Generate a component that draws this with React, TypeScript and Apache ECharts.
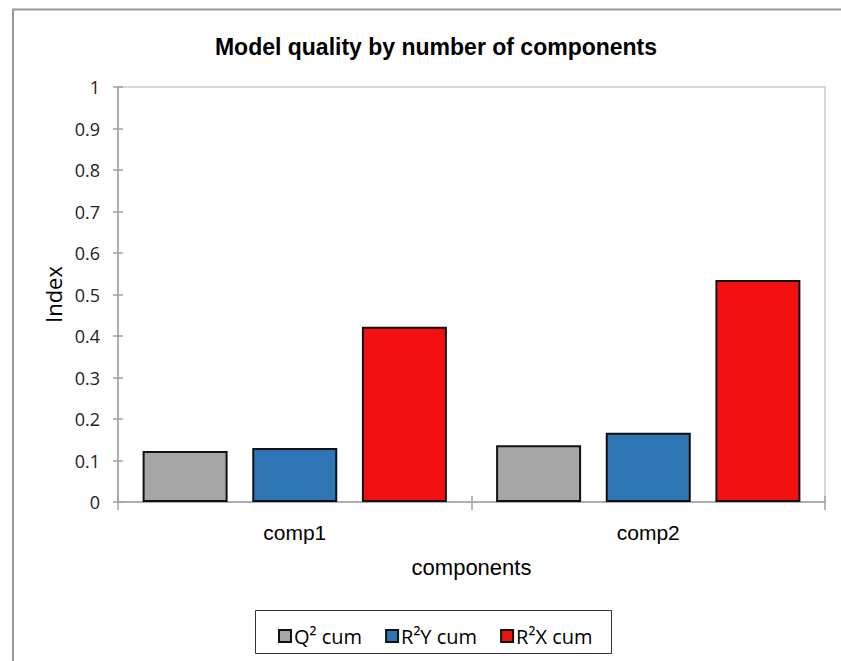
import React, { useEffect, useRef } from "react";
import * as echarts from "echarts";

const categories = ["comp1", "comp2"];
const seriesNames = ["Q² cum", "R²Y cum", "R²X cum"];
const q2cum = [0.123, 0.137];
const r2ycum = [0.130, 0.167];
const r2xcum = [0.422, 0.535];
const yTicks = [0, 0.1, 0.2, 0.3, 0.4, 0.5, 0.6, 0.7, 0.8, 0.9, 1];
const colors = ["#A6A6A6", "#2E75B6", "#F21010"];

export default function App() {
  const ref = useRef<HTMLDivElement>(null);
  useEffect(() => {
    if (!ref.current) return;
    const chart = echarts.init(ref.current, null, { renderer: "svg" });
    const values = [q2cum, r2ycum, r2xcum];
    const axisGray = "#A0A0A0";
    chart.setOption({
      animation: false,
      backgroundColor: "#fff",
      title: {
        text: "Model quality by number of components",
        left: 431,
        top: 30,
        textAlign: "center",
        textStyle: {
          fontFamily: "Liberation Sans",
          fontWeight: "bold",
          fontSize: 23,
          color: "#000",
        },
      },
      graphic: [
        {
          type: "polyline",
          shape: { points: [[13, 700], [13, 9.5], [900, 9.5]] },
          style: { stroke: "#9A9A9A", lineWidth: 2, fill: null },
          silent: true,
        },
        {
          type: "rect",
          shape: { x: 255.5, y: 610.5, width: 356, height: 43 },
          style: { stroke: "#333", lineWidth: 1, fill: null },
          silent: true,
        },
      ],
      legend: {
        data: seriesNames,
        left: 273,
        top: 621,
        itemWidth: 12,
        itemHeight: 12,
        itemGap: 23,
        icon: "rect",
        textStyle: { fontFamily: "Open Sans", fontSize: 20, color: "#000", padding: [0, 0, 0, -2] },
      },
      grid: {
        left: 118,
        right: 16,
        top: 87,
        bottom: 159,
        show: true,
        borderColor: "#CCCCCC",
        borderWidth: 1.5,
      },
      xAxis: [
        {
          type: "category",
          data: categories,
          name: "components",
          nameLocation: "middle",
          nameGap: 54,
          nameTextStyle: { fontFamily: "Liberation Sans", fontSize: 22, color: "#000" },
          axisLine: { lineStyle: { color: axisGray, width: 1.5 } },
          axisTick: { show: true, length: 8, lineStyle: { color: axisGray, width: 1.5 } },
          axisLabel: { fontFamily: "Liberation Sans", fontSize: 21, color: "#000", margin: 20 },
        },
        {
          type: "category",
          data: categories,
          position: "bottom",
          axisLine: { show: false },
          axisTick: { show: true, inside: true, length: 6, lineStyle: { color: axisGray, width: 1.5 } },
          axisLabel: { show: false },
        },
      ],
      yAxis: [
        {
          type: "value",
          min: 0,
          max: 1,
          interval: 0.1,
          name: "Index",
          nameLocation: "middle",
          nameGap: 50,
          nameTextStyle: { fontFamily: "Open Sans", fontSize: 22, color: "#000" },
          axisLine: { show: true, lineStyle: { color: axisGray, width: 1.5 } },
          axisTick: { show: true, length: 5, lineStyle: { color: axisGray, width: 1.5 } },
          splitLine: { show: false },
          axisLabel: {
            fontFamily: "Open Sans",
            fontSize: 18,
            color: "#222",
            margin: 18,
            formatter: (v: number) => {
              const t = yTicks.find((x) => Math.abs(x - v) < 1e-9);
              return t === undefined ? "" : String(t);
            },
          },
        },
        {
          type: "value",
          min: 0,
          max: 1,
          interval: 0.1,
          position: "left",
          axisLine: { show: false },
          axisTick: { show: true, inside: true, length: 5, lineStyle: { color: axisGray, width: 1.5 } },
          axisLabel: { show: false },
          splitLine: { show: false },
        },
      ],
      series: seriesNames.map((name, i) => ({
        name,
        type: "bar",
        data: values[i],
        barWidth: 85,
        barGap: "29%",
        itemStyle: { color: colors[i], borderColor: "#111", borderWidth: 2 },
      })),
    });
    return () => chart.dispose();
  }, []);
  return (
    <div
      ref={ref}
      style={{ position: "fixed", left: 0, top: 0, width: 841, height: 661 }}
    />
  );
}
